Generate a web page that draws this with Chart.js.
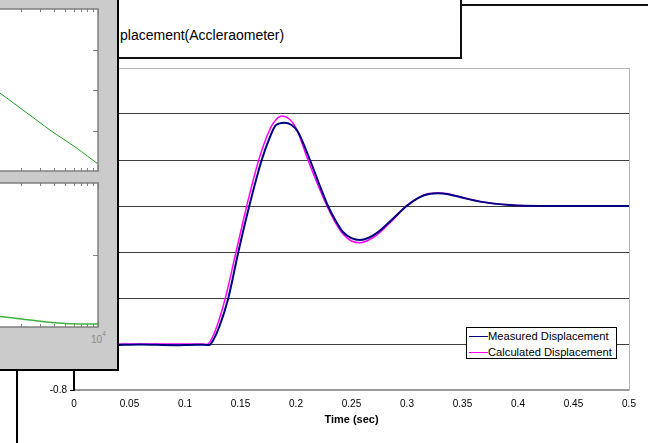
<!DOCTYPE html>
<html>
<head>
<meta charset="utf-8">
<script src="https://cdn.jsdelivr.net/npm/chart.js@4.4.1/dist/chart.umd.min.js"></script>
<style>
  html, body { margin: 0; padding: 0; background: #ffffff; overflow: hidden; }
  body { position: relative; width: 648px; height: 443px; font-family: Arial, "Liberation Sans", sans-serif; }
  #mainChart { position: absolute; left: 0; top: 0; }
  #legend { position: absolute; left: 466px; top: 327px; width: 151px; height: 32px; box-sizing: border-box;
            border: 1px solid #000; background: #fff; font-size: 11.2px; color: #000; }
  #legend .row { position: absolute; left: 0; height: 14px; line-height: 14px; white-space: nowrap; }
  #legend .swatch { position: absolute; left: 2px; top: 7px; width: 19px; height: 1px; }
  #legend .label { position: absolute; left: 21px; top: 0; }
  #titleBox { position: absolute; left: 119px; top: 0; width: 341px; height: 57px; background: #fff;
              border-right: 2px solid #111; border-bottom: 2px solid #111; }
  #titleBox span { position: absolute; left: 1px; top: 27px; font-size: 14px; line-height: 16px; color: #000; white-space: nowrap; }
  #topLine { position: absolute; left: 460px; top: 4px; width: 188px; height: 2px; background: #111; }
  #insetWindow { position: absolute; left: 0; top: 0; width: 117px; height: 369px; background: #cbcbcb;
                 border-right: 2px solid #000; border-bottom: 2px solid #000; overflow: hidden; }
  #magChart { position: absolute; left: -232px; top: 8px; }
  #phaseChart { position: absolute; left: -232px; top: 182px; }
  .insetTick { position: absolute; color: #8c8c8c; white-space: nowrap; }
  #leftLine { position: absolute; left: 16px; top: 371px; width: 2px; height: 72px; background: #000; }
</style>
</head>
<body>
<canvas id="mainChart" width="648" height="443"></canvas>
<div id="legend"></div>
<div id="titleBox"><span>placement(Accleraometer)</span></div>
<div id="topLine"></div>
<div id="insetWindow">
  <canvas id="magChart" width="331" height="164"></canvas>
  <canvas id="phaseChart" width="331" height="146"></canvas>
  <span class="insetTick" style="left:91px; top:335px; font-size:10px; line-height:10px;">10</span>
  <span class="insetTick" style="left:102px; top:330px; font-size:7px; line-height:7px;">4</span>
</div>
<div id="leftLine"></div>
<script>
// main chart data (time in seconds)
const measuredTime = [0, 0.03, 0.06, 0.09, 0.11, 0.1219, 0.1255, 0.1309, 0.139, 0.148, 0.1579, 0.1691, 0.1766,
  0.182, 0.1895, 0.196, 0.2018, 0.2126, 0.2205, 0.2288, 0.2355, 0.2423, 0.25, 0.2577, 0.2655, 0.273, 0.288,
  0.2997, 0.3117, 0.32, 0.328, 0.337, 0.3477, 0.3658, 0.3928, 0.42, 0.45, 0.5];
const measuredValue = [-0.603, -0.605, -0.602, -0.605, -0.603, -0.604, -0.583, -0.525, -0.401, -0.201, 0, 0.2, 0.301,
  0.352, 0.362, 0.352, 0.322, 0.2, 0.1, 0, -0.062, -0.113, -0.14, -0.148, -0.138, -0.117, -0.052,
  0, 0.039, 0.052, 0.055, 0.051, 0.039, 0.019, 0.004, 0, 0, 0];

const calculatedTime = [0, 0.05, 0.1, 0.115, 0.1198, 0.1234, 0.1286, 0.1363, 0.1459, 0.1556, 0.1664, 0.1736, 0.1795,
  0.1874, 0.194, 0.2, 0.2108, 0.219, 0.2279, 0.235, 0.2423, 0.25, 0.2577, 0.2655, 0.273, 0.288, 0.2991,
  0.3117, 0.32, 0.328, 0.337, 0.3477, 0.3658, 0.3928, 0.42, 0.45, 0.5];
const calculatedValue = [-0.6, -0.6, -0.6, -0.6, -0.602, -0.583, -0.525, -0.401, -0.201, 0, 0.2, 0.301, 0.36,
  0.391, 0.378, 0.339, 0.2, 0.1, 0, -0.068, -0.122, -0.152, -0.16, -0.148, -0.126, -0.057, 0,
  0.04, 0.054, 0.057, 0.053, 0.04, 0.02, 0.004, 0, 0, 0];

const seriesLabels = ["Measured Displacement", "Calculated Displacement"];
const timeTicks = { min: 0, max: 0.5, step: 0.05 };
const displacementTicks = { min: -0.8, max: 0.6, step: 0.2 };

// inset (frequency response) data
const magFreq = [1000, 1285, 1700, 2264, 2900, 3660, 4800, 6180, 8000, 10000];
const magDb = [-37.5, -41.5, -46.4, -51.4, -55.7, -59.8, -64.1, -68.1, -72.6, -76.5];
const phaseFreq = [1000, 1285, 2410, 4710, 7000, 10000];
const phaseDeg = [-166, -167, -171.3, -175.4, -176.3, -176.3];
const insetFreqTicks = [100, 200, 300, 400, 500, 600, 700, 800, 900,
  1000, 2000, 3000, 4000, 5000, 6000, 7000, 8000, 9000, 10000];
const magTicks = [-20, -40, -60];
const phaseTicks = [-90];

const fontFamily = "Arial, 'Liberation Sans', sans-serif";
const near = (a, b) => Math.abs(a - b) < 1e-6;
const shortNum = (v) => String(parseFloat(Number(v).toFixed(3)));

const plotFrame = {
  id: "plotFrame",
  beforeDatasetsDraw(chart) {
    const { ctx, chartArea: a } = chart;
    ctx.save();
    ctx.strokeStyle = "#b4b4b4";
    ctx.lineWidth = 1;
    ctx.beginPath();
    ctx.moveTo(a.right + 0.5, a.top);
    ctx.lineTo(a.right + 0.5, a.bottom);
    ctx.stroke();
    ctx.restore();
  },
};

const ctx = document.getElementById("mainChart").getContext("2d");

const mainChart = new Chart(ctx, {
  type: "line",
  data: {
    datasets: [
      {
        label: seriesLabels[0],
        data: measuredTime.map((t, i) => ({ x: t, y: measuredValue[i] })),
        borderColor: "#000080",
        borderWidth: 2,
        pointRadius: 0,
        cubicInterpolationMode: "monotone",
        fill: false,
      },
      {
        label: seriesLabels[1],
        data: calculatedTime.map((t, i) => ({ x: t, y: calculatedValue[i] })),
        borderColor: "#ff00ff",
        borderWidth: 1.5,
        pointRadius: 0,
        cubicInterpolationMode: "monotone",
        fill: false,
      },
    ],
  },
  options: {
    responsive: false,
    animation: false,
    devicePixelRatio: 1,
    layout: { padding: { top: 68, right: 19, left: 0, bottom: 0 } },
    scales: {
      x: {
        type: "linear",
        min: timeTicks.min,
        max: timeTicks.max,
        afterFit: (s) => { s.height = 53; },
        ticks: {
          stepSize: timeTicks.step,
          color: "#000",
          font: { size: 10, family: fontFamily },
          padding: 8,
          maxRotation: 0,
          autoSkip: false,
          callback: (v) => shortNum(v),
        },
        grid: { display: false, drawTicks: false },
        border: { color: "#9a9a9a", width: 1.5 },
        title: {
          display: true,
          text: "Time (sec)",
          color: "#000",
          font: { size: 11, weight: "bold", family: fontFamily },
          padding: { top: 4, bottom: 16 },
        },
      },
      y: {
        min: displacementTicks.min,
        max: displacementTicks.max,
        afterFit: (s) => { s.width = 74; },
        ticks: {
          stepSize: displacementTicks.step,
          color: "#000",
          font: { size: 10, family: fontFamily },
          padding: 3,
          callback: (v) => shortNum(v),
        },
        grid: {
          color: (c) => {
            const v = c.tick ? c.tick.value : 0;
            if (near(v, displacementTicks.max)) return "#b4b4b4";
            if (near(v, displacementTicks.min)) return "#9a9a9a";
            return "#3c3c3c";
          },
          tickColor: "#000",
          tickLength: 4,
        },
        border: { color: "#000", width: 2 },
      },
    },
    plugins: {
      legend: { display: false },
      tooltip: { enabled: false },
    },
  },
  plugins: [plotFrame],
});

// html legend built from the datasets
const legendEl = document.getElementById("legend");
mainChart.data.datasets.forEach((ds, i) => {
  const row = document.createElement("div");
  row.className = "row";
  row.style.top = (1 + i * 16) + "px";
  row.innerHTML = '<span class="swatch" style="background:' + ds.borderColor + '"></span>' +
    '<span class="label">' + ds.label + "</span>";
  legendEl.appendChild(row);
});

const insetFrame = {
  id: "insetFrame",
  beforeDraw(chart) {
    const { ctx, chartArea: a } = chart;
    ctx.save();
    ctx.fillStyle = "#ffffff";
    ctx.fillRect(a.left, a.top, a.right - a.left, a.bottom - a.top);
    ctx.restore();
  },
  afterDraw(chart, args, opts) {
    const { ctx, chartArea: a, scales } = chart;
    ctx.save();
    ctx.strokeStyle = "#7f7f7f";
    ctx.lineWidth = 1.5;
    ctx.strokeRect(a.left, a.top, a.right - a.left, a.bottom - a.top);
    ctx.lineWidth = 1;
    ctx.beginPath();
    insetFreqTicks.forEach((f) => {
      const px = Math.round(scales.x.getPixelForValue(f)) + 0.5;
      const len = near(Math.log10(f) % 1, 0) ? 6 : 3;
      ctx.moveTo(px, a.top);
      ctx.lineTo(px, a.top + len);
      ctx.moveTo(px, a.bottom);
      ctx.lineTo(px, a.bottom - len);
    });
    (opts.yTicks || []).forEach((v) => {
      const py = Math.round(scales.y.getPixelForValue(v)) + 0.5;
      ctx.moveTo(a.right, py);
      ctx.lineTo(a.right - 5, py);
    });
    ctx.stroke();
    ctx.restore();
  },
};

function insetChart(id, freq, values, yMin, yMax, yTicks, color, width) {
  return new Chart(document.getElementById(id).getContext("2d"), {
    type: "line",
    data: {
      datasets: [
        {
          data: freq.map((f, i) => ({ x: f, y: values[i] })),
          borderColor: color,
          borderWidth: width,
          pointRadius: 0,
          tension: 0.3,
          fill: false,
        },
      ],
    },
    options: {
      responsive: false,
      animation: false,
      devicePixelRatio: 1,
      layout: { padding: { top: 1, right: 1, bottom: 1, left: 0 } },
      scales: {
        x: { type: "logarithmic", min: 10, max: 10000, display: false },
        y: { min: yMin, max: yMax, display: false },
      },
      plugins: {
        legend: { display: false },
        tooltip: { enabled: false },
        insetFrame: { yTicks: yTicks },
      },
    },
    plugins: [insetFrame],
  });
}

const magChart = insetChart("magChart", magFreq, magDb, -80, 0, magTicks, "#1ea01e", 1);
const phaseChart = insetChart("phaseChart", phaseFreq, phaseDeg, -180, 0, phaseTicks, "#3cb43c", 1.5);
</script>
</body>
</html>
